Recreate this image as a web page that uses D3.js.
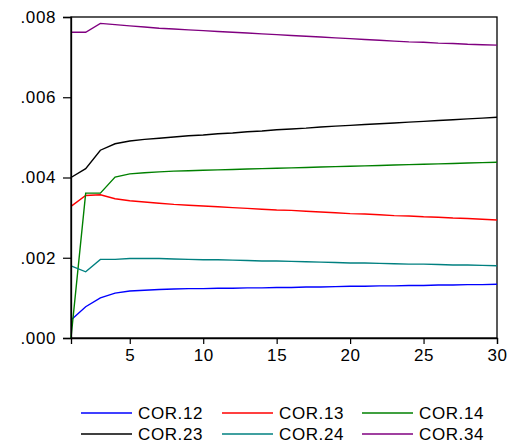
<!DOCTYPE html>
<html><head><meta charset="utf-8">
<script src="https://cdn.jsdelivr.net/npm/d3@7"></script>
<style>body{margin:0;background:#fff;} text{font-family:"Liberation Sans",Arial,sans-serif;}</style>
</head><body>
<svg id="c" width="510" height="445"></svg>
<script>
const periods = d3.range(1, 31);
const seriesNames = ["COR.12","COR.13","COR.14","COR.23","COR.24","COR.34"];
const seriesColors = ["#0000ff","#ff0000","#008000","#000000","#008080","#800080"];
const cor12 = [.00045,.00078,.00100,.00112,.00117,.00119,.00121,.00122,.00123,.00123,.00124,.00124,.00125,.00125,.00126,.00126,.00127,.00127,.00128,.00129,.00129,.00130,.00130,.00131,.00131,.00132,.00132,.00133,.00133,.00134];
const cor13 = [.00328,.00355,.00357,.00347,.00342,.00339,.00336,.00333,.00331,.00329,.00327,.00325,.00323,.00321,.00319,.00318,.00316,.00314,.00312,.00310,.00309,.00307,.00305,.00304,.00302,.00301,.00299,.00298,.00296,.00294];
const cor14 = [.00000,.00361,.00361,.00401,.00409,.00412,.00414,.00416,.00417,.00418,.00419,.00420,.00421,.00422,.00423,.00424,.00425,.00426,.00427,.00428,.00429,.00430,.00431,.00432,.00433,.00434,.00435,.00436,.00437,.00438];
const cor23 = [.00400,.00422,.00468,.00484,.00491,.00495,.00498,.00501,.00504,.00506,.00509,.00511,.00514,.00516,.00519,.00521,.00523,.00526,.00528,.00530,.00532,.00534,.00536,.00538,.00540,.00542,.00544,.00546,.00548,.00550];
const cor24 = [.00180,.00165,.00196,.00196,.00198,.00198,.00198,.00197,.00196,.00195,.00195,.00194,.00193,.00192,.00192,.00191,.00190,.00189,.00188,.00187,.00187,.00186,.00185,.00184,.00184,.00183,.00182,.00182,.00181,.00180];
const cor34 = [.00762,.00762,.00784,.00781,.00778,.00775,.00772,.00770,.00768,.00766,.00764,.00762,.00760,.00758,.00756,.00754,.00752,.00750,.00748,.00746,.00744,.00742,.00740,.00738,.00737,.00735,.00734,.00732,.00731,.00730];
const xTicks = [5,10,15,20,25,30];
const yTicks = [0,.002,.004,.006,.008];
const yTickLabels = [".000",".002",".004",".006",".008"];

const allSeries = [cor12,cor13,cor14,cor23,cor24,cor34];
const svg = d3.select("#c");
const L=71,R=497,T=17,B=338;
const x = d3.scaleLinear().domain([1,30]).range([L,R]);
const y = d3.scaleLinear().domain([0,.008]).range([B,T]);
const fs = "17px";

// frame
svg.append("rect").attr("x",L).attr("y",T).attr("width",R-L).attr("height",B-T)
  .attr("fill","none").attr("stroke","#000").attr("stroke-width",1.3);

// lines
const line = d3.line().x((d,i)=>x(periods[i])).y(d=>y(d));
allSeries.forEach((s,k)=>{
  svg.append("path").datum(s).attr("d",line).attr("fill","none")
    .attr("stroke",seriesColors[k]).attr("stroke-width",1.4);
});

// axes
const yAxis = d3.axisLeft(y).tickValues(yTicks).tickFormat((d,i)=>yTickLabels[i]).tickSizeOuter(0).tickSize(8).tickPadding(7);
const gy = svg.append("g").attr("transform",`translate(${L},0)`).call(yAxis);
const xAxis = d3.axisBottom(x).tickValues(xTicks).tickSizeOuter(0).tickSize(6).tickPadding(5);
const gx = svg.append("g").attr("transform",`translate(0,${B})`).call(xAxis);
[gy,gx].forEach(g=>{
  g.select(".domain").attr("stroke","#000").attr("stroke-width",1.3);
  g.selectAll(".tick line").attr("stroke","#000").attr("stroke-width",1.2);
  g.selectAll("text").attr("font-size",fs).attr("fill","#000")
    .style("font-family","'Liberation Sans',Arial,sans-serif").attr("letter-spacing","0.6px");
});

// legend
const legX = [81,222,362], legY=[413,434];
seriesNames.forEach((n,k)=>{
  const col=k%3,row=Math.floor(k/3);
  const g = svg.append("g").attr("transform",`translate(${legX[col]},${legY[row]})`);
  g.append("line").attr("x1",0).attr("x2",51).attr("y1",0).attr("y2",0)
    .attr("stroke",seriesColors[k]).attr("stroke-width",1.4);
  g.append("text").attr("x",57).attr("y",6).attr("font-size",fs).attr("letter-spacing","0.6px").text(n);
});
</script>
</body></html>
